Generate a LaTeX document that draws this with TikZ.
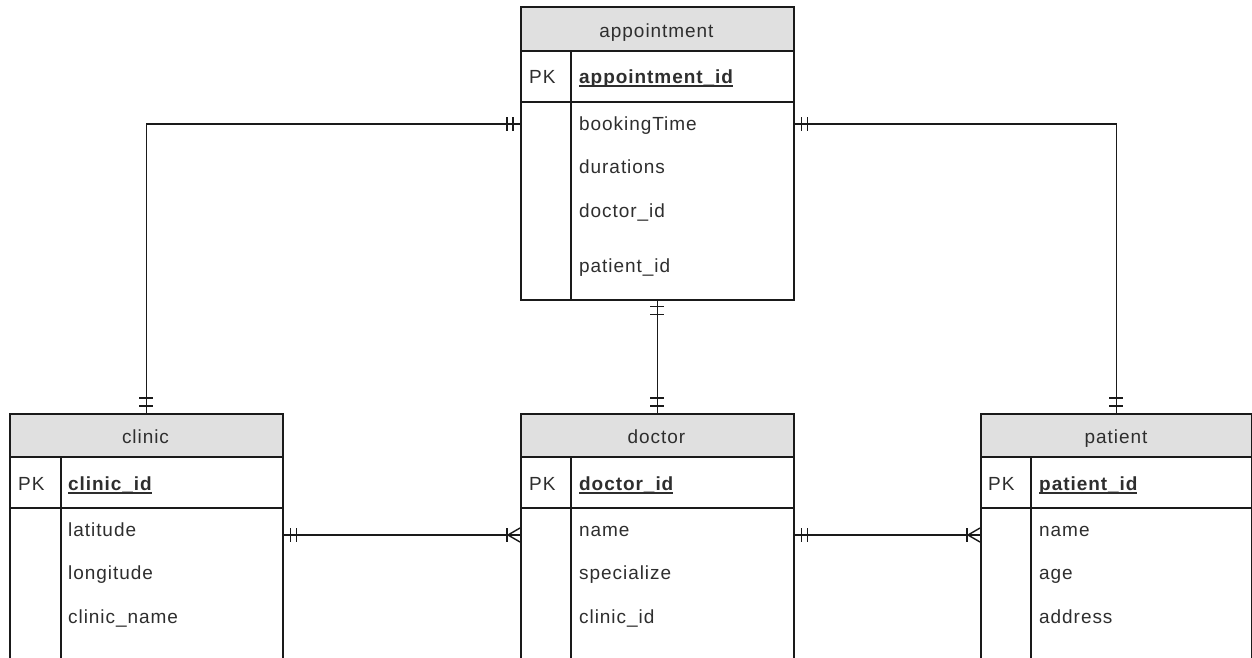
\documentclass[tikz,border=0pt]{standalone}
\usepackage{fontspec}
\setmainfont{Liberation Sans}[LetterSpace=5]
\usetikzlibrary{calc}
\definecolor{txt}{HTML}{2E2E2E}
\definecolor{hdr}{HTML}{E0E0E0}
\definecolor{ln}{HTML}{1A1A1A}
\newcommand\pkul[1]{\setbox0\hbox{\bfseries #1}\rlap{\rule[-3.8pt]{\wd0}{1.5pt}}\box0}
\tikzset{
  tbl/.style={draw=ln, line width=1.6pt, fill=none, rectangle, inner sep=0pt, anchor=north west},
  inner/.style={draw=ln, line width=1.6pt},
  fld/.style={anchor=base west, inner sep=0pt, text=txt, font=\fontsize{19}{21}\selectfont},
  ttl/.style={anchor=base, inner sep=0pt, text=txt, font=\fontsize{19}{21}\selectfont},
  conn/.style={draw=ln, line width=1.4pt},
}
\begin{document}
\begin{tikzpicture}[x=1pt,y=-1pt]
\useasboundingbox (0,0) rectangle (1252,657);
\clip (0,0) rectangle (1252,657);
\fill[white] (0,0) rectangle (1252,657);

% ---------- appointment ----------
\fill[hdr] (520,6) rectangle (793,51);
\node[tbl, minimum width=273pt, minimum height=293pt] (appt) at (520,6) {};
\draw[inner] (520,51) -- (793,51) (520,102) -- (793,102) (571,51) -- (571,299);
\node[ttl] (apptT) at (656.5,37) {appointment};
\node[fld] (apptPKl) at (529,83) {PK};
\node[fld] (apptPK) at (579,83) {\pkul{appointment\_id}};
\node[fld] (bt) at (579,130) {bookingTime};
\node[fld] (dur) at (579,173) {durations};
\node[fld] (adid) at (579,217) {doctor\_id};
\node[fld] (apid) at (579,272) {patient\_id};

% ---------- clinic ----------
\fill[hdr] (9,413) rectangle (282,457);
\node[tbl, minimum width=273pt, minimum height=320pt] (clinic) at (9,413) {};
\draw[inner] (9,457) -- (282,457) (9,508) -- (282,508) (61,457) -- (61,740);
\node[ttl] (clinicT) at (145.5,443) {clinic};
\node[fld] (clinicPKl) at (18,490) {PK};
\node[fld] (clinicPK) at (68,490) {\pkul{clinic\_id}};
\node[fld] (lat) at (68,536) {latitude};
\node[fld] (lon) at (68,579) {longitude};
\node[fld] (cname) at (68,623) {clinic\_name};

% ---------- doctor ----------
\fill[hdr] (520,413) rectangle (793,457);
\node[tbl, minimum width=273pt, minimum height=320pt] (doctor) at (520,413) {};
\draw[inner] (520,457) -- (793,457) (520,508) -- (793,508) (571,457) -- (571,740);
\node[ttl] (doctorT) at (656.5,443) {doctor};
\node[fld] (doctorPKl) at (529,490) {PK};
\node[fld] (doctorPK) at (579,490) {\pkul{doctor\_id}};
\node[fld] (dname) at (579,536) {name};
\node[fld] (spec) at (579,579) {specialize};
\node[fld] (dcid) at (579,623) {clinic\_id};

% ---------- patient ----------
\fill[hdr] (980,413) rectangle (1252,457);
\node[tbl, minimum width=271pt, minimum height=320pt] (patient) at (980,413) {};
\draw[inner] (980,457) -- (1252,457) (980,508) -- (1252,508) (1031,457) -- (1031,740);
\node[ttl] (patientT) at (1116,443) {patient};
\node[fld] (patientPKl) at (988,490) {PK};
\node[fld] (patientPK) at (1039,490) {\pkul{patient\_id}};
\node[fld] (pname) at (1039,536) {name};
\node[fld] (page) at (1039,579) {age};
\node[fld] (paddr) at (1039,623) {address};

% ---------- connectors ----------
\coordinate (rowA) at (0,124);
\coordinate (rowB) at (0,535);
\coordinate (a1) at (appt.west |- rowA);
\coordinate (a2) at (appt.east |- rowA);
\coordinate (c1) at (clinic.east |- rowB);
\coordinate (d1) at (doctor.west |- rowB);
\coordinate (d2) at (doctor.east |- rowB);
\coordinate (p1) at (patient.west |- rowB);

% appointment -- clinic
\draw[conn] (a1) -| (clinic.north);
\draw[conn] ([xshift=-7pt]a1) ++(0,-7) -- ++(0,14) ([xshift=-13pt]a1) ++(0,-7) -- ++(0,14);
\draw[conn] ([yshift=7pt]clinic.north) ++(-7,0) -- ++(14,0) ([yshift=15pt]clinic.north) ++(-7,0) -- ++(14,0);

% appointment -- patient
\draw[conn] (a2) -| (patient.north);
\draw[conn] ([xshift=7pt]a2) ++(0,-7) -- ++(0,14) ([xshift=13pt]a2) ++(0,-7) -- ++(0,14);
\draw[conn] ([yshift=7pt]patient.north) ++(-7,0) -- ++(14,0) ([yshift=15pt]patient.north) ++(-7,0) -- ++(14,0);

% appointment -- doctor
\draw[conn] (appt.south) -- (doctor.north);
\draw[conn] ([yshift=-6pt]appt.south) ++(-7,0) -- ++(14,0) ([yshift=-14pt]appt.south) ++(-7,0) -- ++(14,0);
\draw[conn] ([yshift=7pt]doctor.north) ++(-7,0) -- ++(14,0) ([yshift=15pt]doctor.north) ++(-7,0) -- ++(14,0);

% clinic -- doctor (one to many)
\draw[conn] (c1) -- (d1);
\draw[conn] ([xshift=7pt]c1) ++(0,-7) -- ++(0,14) ([xshift=13pt]c1) ++(0,-7) -- ++(0,14);
\draw[conn] ([xshift=-13pt]d1) ++(0,-7) -- ++(0,14);
\draw[conn] ([yshift=7pt]d1) -- ([xshift=-12pt]d1) -- ([yshift=-7pt]d1);

% doctor -- patient (one to many)
\draw[conn] (d2) -- (p1);
\draw[conn] ([xshift=7pt]d2) ++(0,-7) -- ++(0,14) ([xshift=13pt]d2) ++(0,-7) -- ++(0,14);
\draw[conn] ([xshift=-13pt]p1) ++(0,-7) -- ++(0,14);
\draw[conn] ([yshift=7pt]p1) -- ([xshift=-12pt]p1) -- ([yshift=-7pt]p1);
\end{tikzpicture}
\end{document}
